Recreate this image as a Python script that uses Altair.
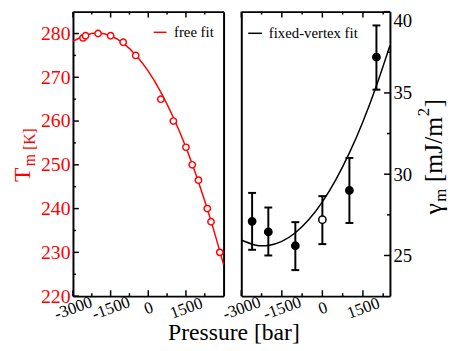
import altair as alt
import pandas as pd

FONT = "Liberation Serif"

# ---- left panel: melting temperature vs pressure (free fit) ----
p_free = [-2600, -2500, -2000, -1500, -1000, -500, 500, 1000, 1500, 1750, 2000, 2350, 2500, 2850]
t_free = [279.0, 279.5, 280.0, 279.5, 278.0, 275.0, 265.0, 260.0, 254.0, 250.0, 246.5, 240.0, 237.0, 230.0]
p_free_fit = [-3000, -2500, -2000, -1500, -1000, -500, 0, 500, 1000, 1500, 2000, 2500, 3000]
t_free_fit = [278.2, 279.6, 280.1, 279.5, 277.8, 275.1, 271.4, 266.6, 260.8, 254.0, 246.1, 237.2, 227.2]

# ---- right panel: gamma_m vs pressure (fixed-vertex fit) ----
p_gam = [-2600, -2000, -1000, 0, 1000, 2000]
gam = [27.1, 26.45, 25.6, 27.2, 29.0, 37.2]
gam_lo = [25.35, 25.0, 24.1, 25.7, 27.0, 35.2]
gam_hi = [28.85, 27.95, 27.05, 28.65, 31.0, 39.15]
gam_kind = ["filled", "filled", "filled", "open", "filled", "filled"]
p_gam_fit = [-3000, -2500, -2000, -1500, -1000, -500, 0, 500, 1000, 1500, 2000, 2500]
gam_fit = [25.95, 25.65, 25.62, 25.87, 26.40, 27.21, 28.3, 29.67, 31.31, 33.23, 35.44, 37.92]

x_major = [-3000, -1500, 0, 1500]
x_minor = [-2250, -750, 750, 2250]
t_major = [220, 230, 240, 250, 260, 270, 280]
t_minor = [225, 235, 245, 255, 265, 275]
g_major = [25, 30, 35, 40]
g_minor = [27.5, 32.5, 37.5]

df_free = pd.DataFrame({"P": p_free, "T": t_free})
df_free_fit = pd.DataFrame({"P": p_free_fit, "T": t_free_fit})
df_gam = pd.DataFrame({"P": p_gam, "g": gam, "lo": gam_lo, "hi": gam_hi, "kind": gam_kind})
df_gam_fit = pd.DataFrame({"P": p_gam_fit, "g": gam_fit})

LW, GAP, RW, H = 153, 18, 151, 289
RX = LW + GAP          # left edge of right panel
W = RX + RW            # full plot width

XL = alt.Scale(domain=[-3000, 3000], range=[0, LW], nice=False, zero=False)
YL = alt.Scale(domain=[220, 285], range=[H, 0], nice=False, zero=False)
XR = alt.Scale(domain=[-3000, 2500], range=[RX, W], nice=False, zero=False)
YR = alt.Scale(domain=[22.5, 40], range=[H, 0], nice=False, zero=False)


def frame_axis(orient, offset):
    return alt.Axis(
        orient=orient, offset=offset, tickOpacity=0, tickSize=1, domain=True,
        domainColor="black", domainWidth=2, grid=False, labels=False, title=None,
    )


def label_axis(orient, values, size, color, pad, **kw):
    return alt.Axis(
        orient=orient, values=values, ticks=False, domain=True, domainColor="black",
        domainWidth=2, grid=False, title=None, labelExpr="'' + datum.value",
        labelFont=FONT, labelFontSize=size, labelColor=color, labelPadding=pad,
        labelOverlap=False, **kw,
    )


x_lab = dict(labelAngle=340, labelAlign="center", labelBaseline="middle", labelFlush=False)

one = alt.Data(values=[{"a": 0}])


def txt(text, x, y, size, color="black", angle=0, align="left", baseline="alphabetic"):
    return alt.Chart(one).mark_text(
        text=text, font=FONT, fontSize=size, color=color, angle=angle,
        align=align, baseline=baseline,
    ).encode(x=alt.value(x), y=alt.value(y))


def seg(x1, x2, y, color):
    return alt.Chart(one).mark_rule(color=color, strokeWidth=1.5).encode(
        x=alt.value(x1), x2=alt.value(x2), y=alt.value(y))


def ghost(df, xf, yf, xs, ys, xaxis, yaxis):
    return alt.Chart(df).mark_point(opacity=0).encode(
        x=alt.X(xf, scale=xs, axis=xaxis), y=alt.Y(yf, scale=ys, axis=yaxis))


def xticks(vals, scale, y1, y2):
    # inward tick marks along a horizontal frame edge, positioned by the panel's x scale
    return alt.Chart(pd.DataFrame({"v": vals})).mark_rule(
        color="black", strokeWidth=1.5
    ).encode(x=alt.X("v:Q", scale=scale, axis=None), y=alt.value(y1), y2=alt.value(y2))


def yticks(vals, scale, x1, x2):
    # inward tick marks along a vertical frame edge, positioned by the panel's y scale
    return alt.Chart(pd.DataFrame({"v": vals})).mark_rule(
        color="black", strokeWidth=1.5
    ).encode(y=alt.Y("v:Q", scale=scale, axis=None), x=alt.value(x1), x2=alt.value(x2))


# ---- left panel layers ----
l_line = alt.Chart(df_free_fit).mark_line(
    color="red", strokeWidth=1.5, interpolate="natural"
).encode(
    x=alt.X("P:Q", scale=XL, axis=label_axis("bottom", x_major, 17, "black", 12, **x_lab)),
    y=alt.Y("T:Q", scale=YL, axis=label_axis("left", t_major, 20, "red", 3)),
)
l_pts = alt.Chart(df_free).mark_point(
    shape="circle", filled=True, fill="white", stroke="red", strokeWidth=1.5, size=42, opacity=1
).encode(
    x=alt.X("P:Q", scale=XL, axis=None),
    y=alt.Y("T:Q", scale=YL, axis=None),
)
l_frame = ghost(df_free, "P:Q", "T:Q", XL, YL, frame_axis("bottom", -H), frame_axis("right", -(W - LW)))
l_ticks = [
    xticks(x_major, XL, H - 6, H), xticks(x_minor, XL, H - 3, H),
    xticks(x_major, XL, 0, 6), xticks(x_minor, XL, 0, 3),
    yticks(t_major, YL, 0, 6), yticks(t_minor, YL, 0, 3),
]

# ---- right panel layers ----
r_line = alt.Chart(df_gam_fit).mark_line(
    color="black", strokeWidth=1.5, interpolate="natural"
).encode(
    x=alt.X("P:Q", scale=XR, axis=label_axis("bottom", x_major, 17, "black", 12, **x_lab)),
    y=alt.Y("g:Q", scale=YR, axis=label_axis("right", g_major, 19, "black", 3, labelFlush=True)),
)
r_err = alt.Chart(df_gam).mark_rule(color="black", strokeWidth=2).encode(
    x=alt.X("P:Q", scale=XR, axis=None),
    y=alt.Y("lo:Q", scale=YR, axis=None),
    y2="hi:Q",
)
r_cap_lo = alt.Chart(df_gam).mark_tick(
    orient="horizontal", color="black", thickness=2, size=8, opacity=1
).encode(
    x=alt.X("P:Q", scale=XR, axis=None),
    y=alt.Y("lo:Q", scale=YR, axis=None),
)
r_cap_hi = alt.Chart(df_gam).mark_tick(
    orient="horizontal", color="black", thickness=2, size=8, opacity=1
).encode(
    x=alt.X("P:Q", scale=XR, axis=None),
    y=alt.Y("hi:Q", scale=YR, axis=None),
)
r_pts = alt.Chart(df_gam).mark_point(
    shape="circle", filled=True, stroke="black", strokeWidth=1.5, size=55, opacity=1
).encode(
    x=alt.X("P:Q", scale=XR, axis=None),
    y=alt.Y("g:Q", scale=YR, axis=None),
    fill=alt.Fill("kind:N", scale=alt.Scale(domain=["filled", "open"], range=["black", "white"]), legend=None),
)
r_frame = ghost(df_gam, "P:Q", "g:Q", XR, YR, frame_axis("bottom", -H), frame_axis("left", -RX))
r_ticks = [
    xticks(x_major, XR, H - 6, H), xticks(x_minor, XR, H - 3, H),
    xticks(x_major, XR, 0, 6), xticks(x_minor, XR, 0, 3),
    yticks(g_major, YR, W - 6, W), yticks(g_minor, YR, W - 3, W),
]

chart = alt.layer(
    l_line, l_pts, l_frame, *l_ticks,
    r_line, r_err, r_cap_lo, r_cap_hi, r_pts, r_frame, *r_ticks,
    seg(LW - 71, LW - 58, 21, "red"),
    txt("free fit", LW - 10, 21, 15, baseline="middle", align="right"),
    seg(RX + 7, RX + 21, 22, "black"),
    txt("fixed-vertex fit", RX + 28, 22, 15, baseline="middle"),
    txt("T", -44, 173, 24, color="red", angle=270),
    txt("m [K]", -39, 157, 16, color="red", angle=270),
    txt("Pressure [bar]", 163.5, 334, 24, align="center"),
    txt("\u03b3", RX + 204, 206, 26, angle=270),
    txt("m", RX + 208, 193, 17, angle=270),
    txt("[mJ/m", RX + 204, 173.3, 26, angle=270),
    txt("2", RX + 191, 106.3, 17, angle=270),
    txt("]", RX + 204, 97.5, 26, angle=270),
).resolve_scale(
    x="independent", y="independent", fill="independent"
).resolve_axis(
    x="independent", y="independent"
).properties(
    width=W, height=H, padding={"left": 3, "top": 0, "right": 0, "bottom": 0}
).configure_axis(
    labelFont=FONT
).configure_view(strokeWidth=0)

chart.save("out.html", embed_options={"renderer": "svg", "actions": False})
